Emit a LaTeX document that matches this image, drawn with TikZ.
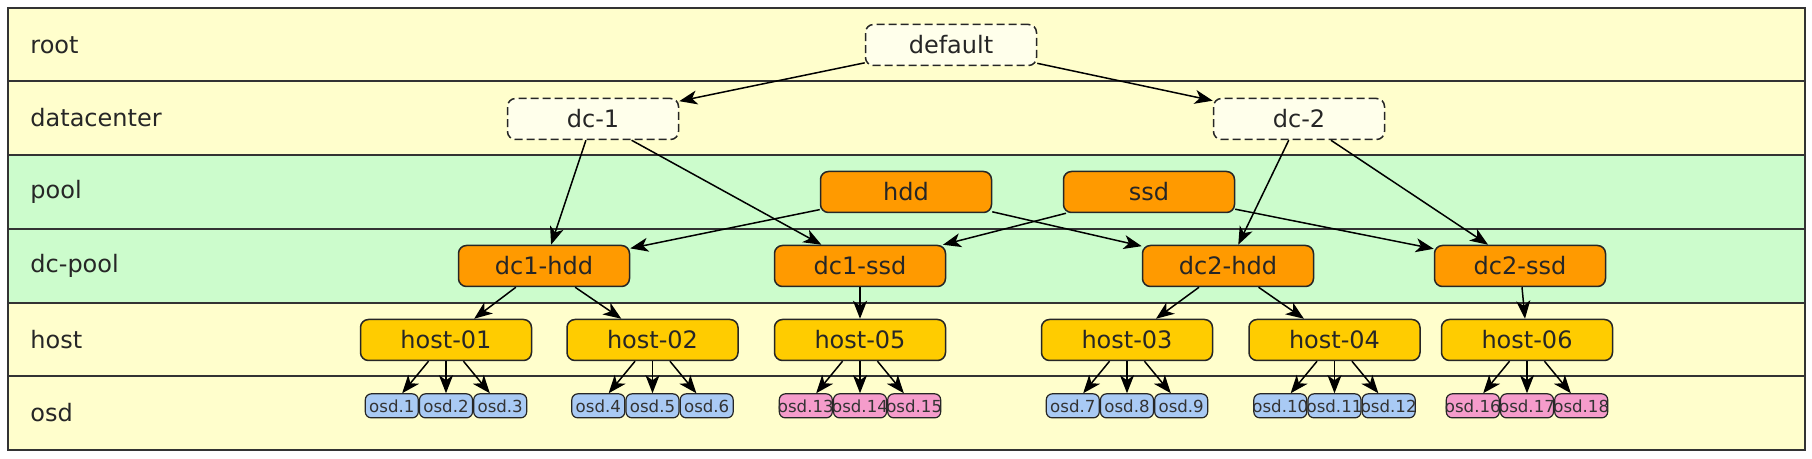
\documentclass[tikz,border=0pt]{standalone}
\usepackage{xcolor}
\usepackage{fontspec}
\setmainfont{DejaVu Sans}
\usepackage{tikz}
\usetikzlibrary{positioning,arrows.meta}

\definecolor{bandyellow}{HTML}{FFFECC}
\definecolor{bandgreen}{HTML}{CCFCCC}
\definecolor{poolorange}{HTML}{FF9A00}
\definecolor{hostgold}{HTML}{FFCC00}
\definecolor{osdblue}{HTML}{A9CAF4}
\definecolor{osdpink}{HTML}{F59CCB}

% fixed-width osd label, text may run over the box edge
\newcommand{\osdname}[1]{\makebox[26pt]{osd.#1}}

\tikzset{
  bucket/.style={rectangle, rounded corners=4pt, draw=black!85, line width=0.75pt,
    minimum width=85.5pt, minimum height=20.5pt, inner sep=0pt,
    font=\fontsize{12}{14}\selectfont, text=black!85},
  dashbox/.style={bucket, dash pattern=on 4pt off 2pt, fill=white!60!bandyellow},
  poolbox/.style={bucket, fill=poolorange},
  hostbox/.style={bucket, fill=hostgold},
  osdbox/.style={rectangle, rounded corners=3pt, draw=black!85, line width=0.6pt,
    minimum width=26.5pt, minimum height=12pt, inner sep=0pt,
    font=\fontsize{8.3}{9}\selectfont, text=black!80},
  osdhdd/.style={osdbox, fill=osdblue},
  osdssd/.style={osdbox, fill=osdpink},
  rowlabel/.style={anchor=west, inner sep=0pt, font=\fontsize{12}{14}\selectfont, text=black!85},
  link/.style={-{Stealth[length=9pt,width=7pt,inset=2.5pt]}, line width=0.75pt}
}

\begin{document}
\begin{tikzpicture}[x=0.5pt, y=-0.5pt]
    \useasboundingbox (0,0) rectangle (1812,459);

    % Bands
    \fill[bandyellow] (8,8) rectangle (1805,155);
    \fill[bandgreen] (8,155) rectangle (1805,303);
    \fill[bandyellow] (8,303) rectangle (1805,450);
    \draw[line width=0.9pt, black!80] (8,81) -- (1805,81);
    \draw[line width=0.9pt, black!80] (8,155) -- (1805,155);
    \draw[line width=0.9pt, black!80] (8,229) -- (1805,229);
    \draw[line width=0.9pt, black!80] (8,303) -- (1805,303);
    \draw[line width=0.9pt, black!80] (8,376) -- (1805,376);
    \draw[line width=1pt, black!80] (8,8) rectangle (1805,450);

    % Row labels
    \node[rowlabel] (lroot) at (30,45) {root};
    \node[rowlabel] (ldatacenter) at (30,118) {datacenter};
    \node[rowlabel] (lpool) at (30,192) {pool};
    \node[rowlabel] (ldcpool) at (30,266) {dc-pool};
    \node[rowlabel] (lhost) at (30,340) {host};
    \node[rowlabel] (losd) at (30,413) {osd};

    % Nodes
    \node[dashbox] (default) at (951,45) {default};
    \node[dashbox] (dc-1) at (593,119) {dc-1};
    \node[dashbox] (dc-2) at (1299,119) {dc-2};

    \node[poolbox] (hdd) at (906,192) {hdd};
    \node[poolbox] (ssd) at (1149,192) {ssd};

    \node[poolbox] (dc1-hdd) at (544,266) {dc1-hdd};
    \node[poolbox] (dc1-ssd) at (860,266) {dc1-ssd};
    \node[poolbox] (dc2-hdd) at (1228,266) {dc2-hdd};
    \node[poolbox] (dc2-ssd) at (1520,266) {dc2-ssd};

    \node[hostbox] (host-01) at (446,340) {host-01};
    \node[hostbox] (host-02) [right=17pt of host-01] {host-02};
    \node[hostbox] (host-05) at (860,340) {host-05};
    \node[hostbox] (host-03) at (1127,340) {host-03};
    \node[hostbox] (host-04) [right=17.5pt of host-03] {host-04};
    \node[hostbox] (host-06) at (1527,340) {host-06};

    \node[osdhdd] (osd2) [below=16pt of host-01] {\osdname{2}};
    \node[osdhdd] (osd1) [left=0pt of osd2] {\osdname{1}};
    \node[osdhdd] (osd3) [right=0pt of osd2] {\osdname{3}};
    \node[osdhdd] (osd5) [below=16pt of host-02] {\osdname{5}};
    \node[osdhdd] (osd4) [left=0pt of osd5] {\osdname{4}};
    \node[osdhdd] (osd6) [right=0pt of osd5] {\osdname{6}};
    \node[osdssd] (osd14) [below=16pt of host-05] {\osdname{14}};
    \node[osdssd] (osd13) [left=0pt of osd14] {\osdname{13}};
    \node[osdssd] (osd15) [right=0pt of osd14] {\osdname{15}};
    \node[osdhdd] (osd8) [below=16pt of host-03] {\osdname{8}};
    \node[osdhdd] (osd7) [left=0pt of osd8] {\osdname{7}};
    \node[osdhdd] (osd9) [right=0pt of osd8] {\osdname{9}};
    \node[osdhdd] (osd11) [below=16pt of host-04] {\osdname{11}};
    \node[osdhdd] (osd10) [left=0pt of osd11] {\osdname{10}};
    \node[osdhdd] (osd12) [right=0pt of osd11] {\osdname{12}};
    \node[osdssd] (osd17) [below=16pt of host-06] {\osdname{17}};
    \node[osdssd] (osd16) [left=0pt of osd17] {\osdname{16}};
    \node[osdssd] (osd18) [right=0pt of osd17] {\osdname{18}};

    % Arrows
    \draw[link] (default) -- (dc-1);
    \draw[link] (default) -- (dc-2);
    \draw[link] (dc-1) -- (dc1-hdd);
    \draw[link] (dc-1) -- (dc1-ssd);
    \draw[link] (dc-2) -- (dc2-hdd);
    \draw[link] (dc-2) -- (dc2-ssd);
    \draw[link] (hdd) -- (dc1-hdd);
    \draw[link] (hdd) -- (dc2-hdd);
    \draw[link] (ssd) -- (dc1-ssd);
    \draw[link] (ssd) -- (dc2-ssd);

    \draw[link] (dc1-hdd) -- (host-01);
    \draw[link] (dc1-hdd) -- (host-02);
    \draw[link] (dc1-ssd) -- (host-05);
    \draw[link] (dc2-hdd) -- (host-03);
    \draw[link] (dc2-hdd) -- (host-04);
    \draw[link] (dc2-ssd) -- (host-06);

    \draw[link] (host-01) -- (osd1);
    \draw[link] (host-01) -- (osd2);
    \draw[link] (host-01) -- (osd3);
    \draw[link] (host-02) -- (osd4);
    \draw[link] (host-02) -- (osd5);
    \draw[link] (host-02) -- (osd6);
    \draw[link] (host-05) -- (osd13);
    \draw[link] (host-05) -- (osd14);
    \draw[link] (host-05) -- (osd15);
    \draw[link] (host-03) -- (osd7);
    \draw[link] (host-03) -- (osd8);
    \draw[link] (host-03) -- (osd9);
    \draw[link] (host-04) -- (osd10);
    \draw[link] (host-04) -- (osd11);
    \draw[link] (host-04) -- (osd12);
    \draw[link] (host-06) -- (osd16);
    \draw[link] (host-06) -- (osd17);
    \draw[link] (host-06) -- (osd18);
  \end{tikzpicture}
\end{document}
